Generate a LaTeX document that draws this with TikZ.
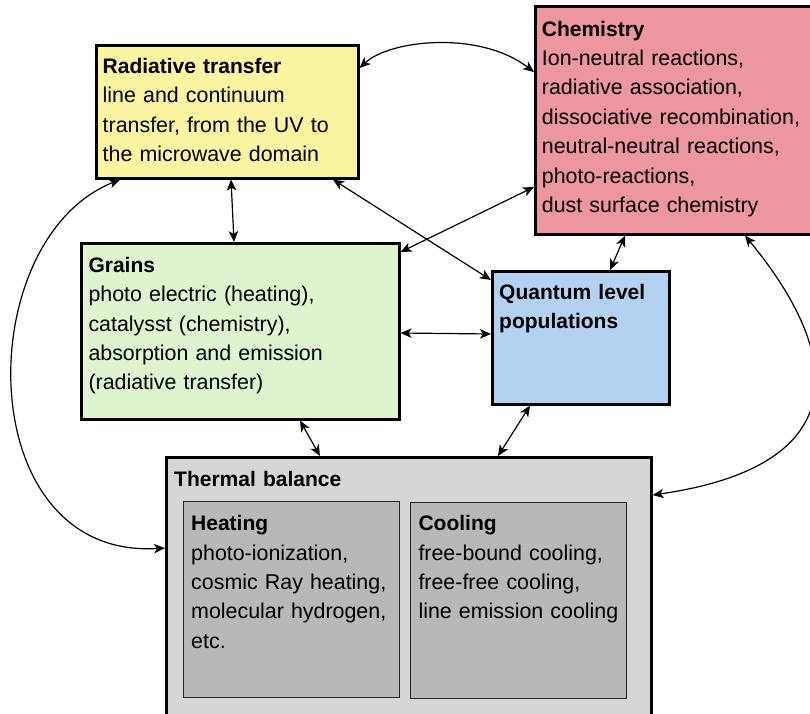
\documentclass[tikz,border=0pt]{standalone}
\usepackage{fontspec}
\setmainfont{Liberation Sans}
\usetikzlibrary{arrows.meta}
\definecolor{cRad}{HTML}{FBF4A1}
\definecolor{cChem}{HTML}{EC96A0}
\definecolor{cGrain}{HTML}{DFF4CE}
\definecolor{cQuant}{HTML}{B3D1F1}
\definecolor{cTherm}{HTML}{D6D6D6}
\definecolor{cInner}{HTML}{B8B8B8}
\newcommand{\ttl}[1]{{\fontsize{21}{29.4}\selectfont\bfseries #1}}
\begin{document}
\begin{tikzpicture}[x=1pt,y=1pt,
  box/.style={draw=black,line width=2.6pt,inner sep=0pt,anchor=north west},
  innerbox/.style={draw=black!85,line width=1.4pt,inner sep=0pt,anchor=north west},
  txt/.style={inner sep=0pt,anchor=base west,text width=320pt,align=left,
     font=\fontsize{21.4}{29.4}\selectfont},
  conn/.style={line width=1.2pt,{Stealth[length=11pt,width=9.5pt,inset=3pt]}-{Stealth[length=11pt,width=9.5pt,inset=3pt]}}
]
\useasboundingbox (0,0) rectangle (810,-713);
% boxes
\node[box,fill=cRad,minimum width=262pt,minimum height=133pt] (rad) at (95,-44) {};
\node[box,fill=cChem,minimum width=290pt,minimum height=228pt] (chem) at (534,-5) {};
\node[box,fill=cGrain,minimum width=318pt,minimum height=176pt] (grain) at (80,-242) {};
\node[box,fill=cQuant,minimum width=177pt,minimum height=133pt] (quant) at (491,-270) {};
\node[box,fill=cTherm,minimum width=485pt,minimum height=280pt] (therm) at (165,-456) {};
\node[innerbox,fill=cInner,minimum width=216pt,minimum height=196pt] (heat) at (183,-501) {};
\node[innerbox,fill=cInner,minimum width=216pt,minimum height=196pt] (cool) at (410,-502) {};
% texts
\node[txt] (radt) at (102.5,-73.3) {\ttl{Radiative transfer}\\line and continuum\\transfer, from the UV to\\the microwave domain};
\node[txt] (chemt) at (541.7,-36) {\ttl{Chemistry}\\Ion-neutral reactions,\\radiative association,\\dissociative recombination,\\neutral-neutral reactions,\\photo-reactions,\\dust surface chemistry};
\node[txt] (graint) at (88.3,-272.3) {\ttl{Grains}\\photo electric (heating),\\catalysst (chemistry),\\absorption and emission\\(radiative transfer)};
\node[txt] (quantt) at (499,-299.3) {\ttl{Quantum level}\\\ttl{populations}};
\node[txt] (thermt) at (174,-486.7) {\ttl{Thermal balance}};
\node[txt] (heatt) at (191,-530.7) {\ttl{Heating}\\photo-ionization,\\cosmic Ray heating,\\molecular hydrogen,\\etc.};
\node[txt] (coolt) at (418.3,-530.7) {\ttl{Cooling}\\free-bound cooling,\\free-free cooling,\\line emission cooling};
% anchor coordinates
\coordinate (r1) at ([yshift=-24pt]rad.north east);
\coordinate (c1) at ([yshift=-67pt]chem.north west);
\coordinate (r2) at ([xshift=136pt]rad.south west);
\coordinate (g2) at ([xshift=154pt]grain.north west);
\coordinate (r3) at ([xshift=238pt]rad.south west);
\coordinate (q3) at ([yshift=-10pt]quant.north west);
\coordinate (g4) at ([yshift=-10pt]grain.north east);
\coordinate (c4) at ([yshift=-182pt]chem.north west);
\coordinate (g5) at ([yshift=-91pt]grain.north east);
\coordinate (q5) at ([yshift=-64pt]quant.north west);
\coordinate (c6) at ([xshift=91pt]chem.south west);
\coordinate (q6) at ([xshift=119pt]quant.north west);
\coordinate (c7) at ([xshift=211pt]chem.south west);
\coordinate (t7) at ([yshift=-39pt]therm.north east);
\coordinate (g8) at ([xshift=220pt]grain.south west);
\coordinate (t8) at ([xshift=155pt]therm.north west);
\coordinate (q9) at ([xshift=39pt]quant.south west);
\coordinate (t9) at ([xshift=333pt]therm.north west);
\coordinate (r10) at ([xshift=25pt]rad.south west);
\coordinate (t10) at ([yshift=-92pt]therm.north west);
% connectors
\draw[conn] (r1) .. controls +(30,28) and +(-55,42) .. (c1);
\draw[conn] (r2) -- (g2);
\draw[conn] (r3) -- (q3);
\draw[conn] (g4) -- (c4);
\draw[conn] (g5) -- (q5);
\draw[conn] (c6) -- (q6);
\draw[conn] (c7) .. controls +(95,-115) and +(208,30) .. (t7);
\draw[conn] (g8) -- (t8);
\draw[conn] (q9) -- (t9);
\draw[conn] (r10) .. controls +(-150,-60) and +(-195,-12) .. (t10);
\end{tikzpicture}
\end{document}
